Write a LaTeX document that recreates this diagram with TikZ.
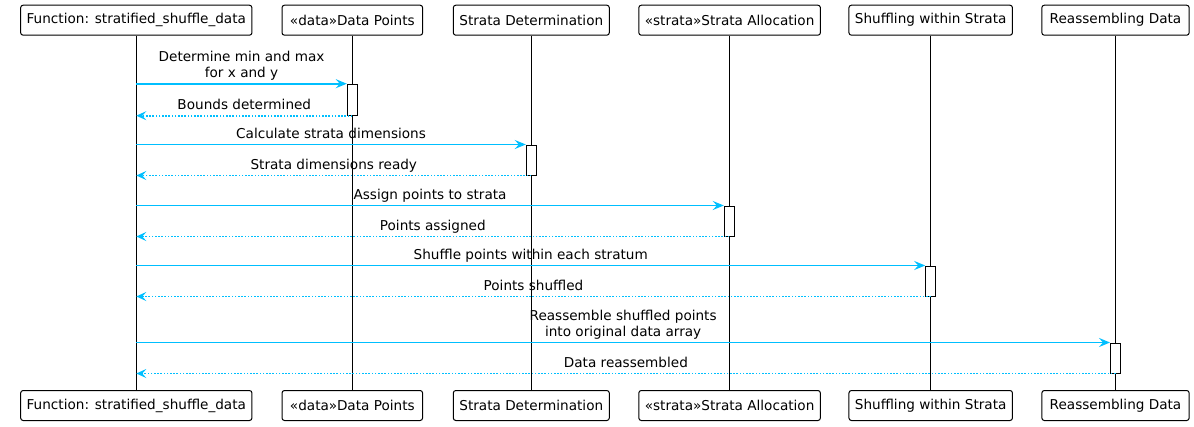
\documentclass[tikz,border=0pt]{standalone}
\usepackage{fontspec}
\setmainfont{DejaVu Sans}
\usetikzlibrary{arrows.meta}
\definecolor{arrowblue}{RGB}{0,191,255}
\begin{document}
\begin{tikzpicture}[x=1pt,y=-1pt,
  font=\fontsize{13.6pt}{16pt}\selectfont,
  part/.style={draw, rounded corners=2.5pt, line width=1pt, inner xsep=6pt, inner ysep=0pt, minimum height=30pt, fill=white},
  life/.style={draw, line width=1pt},
  act/.style={draw, fill=white, line width=1pt, minimum width=10pt, inner sep=0pt},
  msg/.style={draw=arrowblue, line width=1.8pt, -{Stealth[length=11pt,width=9pt,inset=4pt]}},
  ret/.style={draw=arrowblue, line width=1.8pt, dash pattern=on 1.6pt off 1.6pt, -{Stealth[length=10pt,width=9pt,inset=4pt]}},
  lbl/.style={midway, anchor=south, inner sep=0pt, yshift=2pt, align=center, text depth=3pt, text=black}]
\useasboundingbox (0,0) rectangle (1194,426);
% participants (top)
\node[part, minimum width=231pt] (p1t) at (136.3,20.2) {Function: stratified\_shuffle\_data};
\node[part, minimum width=140.6pt] (p2t) at (352.3,20.2) {«data»Data Points};
\node[part, minimum width=156pt] (p3t) at (531.3,20.2) {Strata Determination};
\node[part, minimum width=180.7pt] (p4t) at (729.6,20.2) {«strata»Strata Allocation};
\node[part, minimum width=160.3pt] (p5t) at (930.7,20.2) {Shuffling within Strata};
\node[part, minimum width=147.3pt] (p6t) at (1115.5,20.2) {Reassembling Data};
% participants (bottom)
\node[part, minimum width=231pt] (p1b) at (136.3,405.5) {Function: stratified\_shuffle\_data};
\node[part, minimum width=140.6pt] (p2b) at (352.3,405.5) {«data»Data Points};
\node[part, minimum width=156pt] (p3b) at (531.3,405.5) {Strata Determination};
\node[part, minimum width=180.7pt] (p4b) at (729.6,405.5) {«strata»Strata Allocation};
\node[part, minimum width=160.3pt] (p5b) at (930.7,405.5) {Shuffling within Strata};
\node[part, minimum width=147.3pt] (p6b) at (1115.5,405.5) {Reassembling Data};
% lifelines
\draw[life] (p1t.south) -- (p1b.north);
\draw[life] (p2t.south) -- (p2b.north);
\draw[life] (p3t.south) -- (p3b.north);
\draw[life] (p4t.south) -- (p4b.north);
\draw[life] (p5t.south) -- (p5b.north);
\draw[life] (p6t.south) -- (p6b.north);
% activations
\node[act, minimum height=31pt] (a1) at (352.3,99.7) {};
\node[act, minimum height=30pt] (a2) at (531.3,160) {};
\node[act, minimum height=30pt] (a3) at (729.3,221) {};
\node[act, minimum height=30pt] (a4) at (930.7,281) {};
\node[act, minimum height=30pt] (a5) at (1115.5,358) {};
% messages
\draw[msg] (p1t |- a1.north) -- (a1.north west) node[lbl] {Determine min and max\\for x and y};
\draw[ret] (a1.south) -- (p1t |- a1.south) node[lbl] {Bounds determined};
\draw[msg] (p1t |- a2.north) -- (a2.north west) node[lbl] {Calculate strata dimensions};
\draw[ret] (a2.south) -- (p1t |- a2.south) node[lbl] {Strata dimensions ready};
\draw[msg] (p1t |- a3.north) -- (a3.north west) node[lbl] {Assign points to strata};
\draw[ret] (a3.south) -- (p1t |- a3.south) node[lbl] {Points assigned};
\draw[msg] (p1t |- a4.north) -- (a4.north west) node[lbl] {Shuffle points within each stratum};
\draw[ret] (a4.south) -- (p1t |- a4.south) node[lbl] {Points shuffled};
\draw[msg] (p1t |- a5.north) -- (a5.north west) node[lbl] {Reassemble shuffled points\\into original data array};
\draw[ret] (a5.south) -- (p1t |- a5.south) node[lbl] {Data reassembled};
\end{tikzpicture}
\end{document}
